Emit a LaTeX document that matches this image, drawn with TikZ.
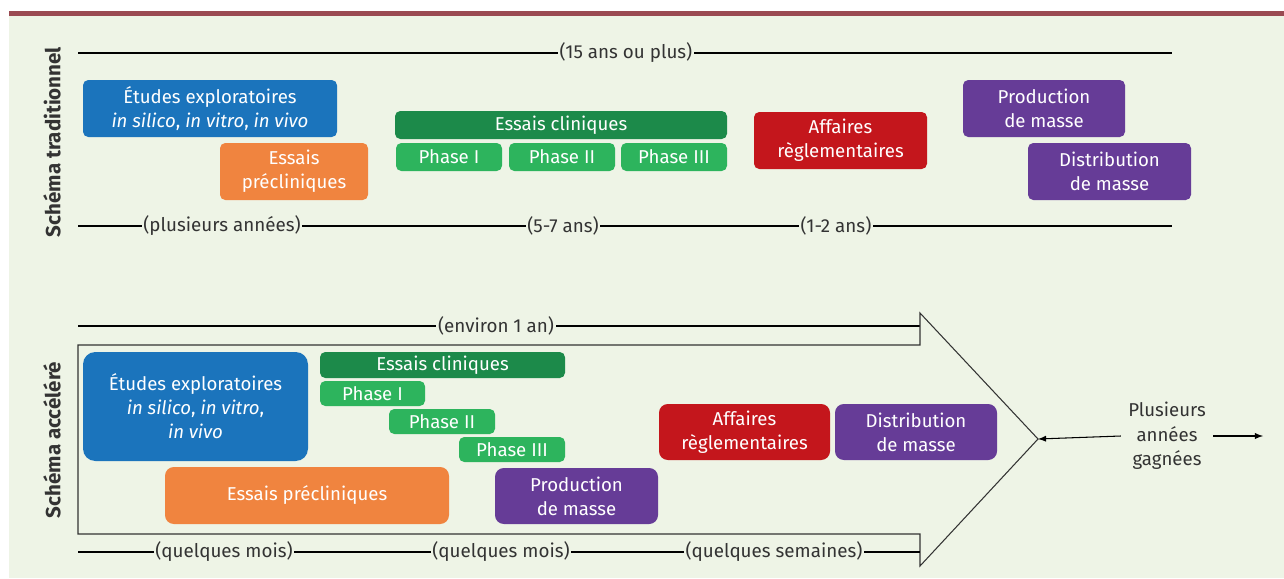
\documentclass[tikz,border=0pt]{standalone}
\usepackage{fontspec}
\setmainfont{Fira Sans}
\usepackage{tikz}
\usetikzlibrary{arrows}

\definecolor{fond}{HTML}{EEF4E6}
\definecolor{bordeaux}{HTML}{9A4A52}
\definecolor{bleu}{HTML}{1B74BC}
\definecolor{orange}{HTML}{F0843F}
\definecolor{vertfonce}{HTML}{1C8A4A}
\definecolor{vertclair}{HTML}{2DB45D}
\definecolor{rouge}{HTML}{C4161C}
\definecolor{violet}{HTML}{663C97}
\definecolor{gristexte}{HTML}{333333}

\tikzset{
  bloc/.style={rounded corners=3pt, text=white, align=center, inner sep=0pt,
    font=\fontsize{10.6}{13.6}\selectfont},
  taille/.style 2 args={minimum width=#1*0.02cm, minimum height=#2*0.02cm},
  duree/.style={fill=fond, inner sep=1pt, text=gristexte, font=\fontsize{10.7}{13}\selectfont},
  axe/.style={black, line width=0.6pt},
  titre/.style={rotate=90, text=gristexte, font=\fontsize{11.7}{14}\selectfont\bfseries},
}

\begin{document}
\begin{tikzpicture}[x=0.02cm, y=-0.02cm]

\useasboundingbox (0,0) rectangle (1284,578);
\fill[fond] (9,16) rectangle (1284,578);
\fill[bordeaux] (9,11) rectangle (1284,16);

% schema traditionnel
\node[titre] (tradi) at (52,142) {Schéma traditionnel};

\coordinate (hautG) at (78,53);
\coordinate (hautD) at (1172,53);
\draw[axe] (hautG) -- (hautD);
\node[duree] (total) at (626,53) {(15 ans ou plus)};

\node[bloc, fill=bleu, taille={254}{57}] (etudesT) at (210,108.5) {Études exploratoires\\\textit{in silico}, \textit{in vitro}, \textit{in vivo}};
\node[bloc, fill=orange, taille={148}{57}] (preclinT) at (294,171.5) {Essais\\précliniques};
\node[bloc, fill=vertfonce, taille={332}{28}] (cliniT) at (561,125) {Essais cliniques};
\node[bloc, fill=vertclair, taille={106}{28}] (phaseIT) at (449,157) {Phase I};
\node[bloc, fill=vertclair, taille={106}{28}] (phaseIIT) at (562,157) {Phase II};
\node[bloc, fill=vertclair, taille={106}{28}] (phaseIIIT) at (674,157) {Phase III};
\node[bloc, fill=rouge, taille={173}{57}] (affairesT) at (840.5,140.5) {Affaires\\règlementaires};
\node[bloc, fill=violet, taille={162}{57}] (prodT) at (1044,108.5) {Production\\de masse};
\node[bloc, fill=violet, taille={163}{57}] (distribT) at (1109.5,171.5) {Distribution\\de masse};

\coordinate (basG) at (78,226);
\coordinate (basD) at (1172,226);
\draw[axe] (basG) -- (basD);
\node[duree] (dureeA) at (222,226) {(plusieurs années)};
\node[duree] (dureeB) at (563,226) {(5-7 ans)};
\node[duree] (dureeC) at (836,226) {(1-2 ans)};

% schema accelere
\node[titre] (accel) at (52,440) {Schéma accéléré};

\coordinate (hautG2) at (78,326);
\coordinate (hautD2) at (920,326);
\draw[axe] (hautG2) -- (hautD2);
\node[duree] (total2) at (496,326) {(environ 1 an)};

\coordinate (pointe) at (1038,439);
\draw[gristexte, line width=0.6pt] (78,345) -- (920,345) -- (920,313) -- (pointe) -- (920,566) -- (920,534) -- (78,534) -- cycle;

\node[bloc, fill=bleu, rounded corners=7pt, taille={225}{109}] (etudesA) at (195.5,406.5) {Études exploratoires\\\textit{in silico}, \textit{in vitro},\\\textit{in vivo}};
\node[bloc, fill=orange, rounded corners=5pt, taille={284}{57}] (preclinA) at (307,495.5) {Essais précliniques};
\node[bloc, fill=vertfonce, taille={245}{26}] (cliniA) at (442.5,365) {Essais cliniques};
\node[bloc, fill=vertclair, taille={105}{25}] (phaseIA) at (372.5,393.5) {Phase I};
\node[bloc, fill=vertclair, taille={106}{25}] (phaseIIA) at (442,421.5) {Phase II};
\node[bloc, fill=vertclair, taille={106}{25}] (phaseIIIA) at (512,449.5) {Phase III};
\node[bloc, fill=violet, rounded corners=5pt, taille={163}{56}] (prodA) at (576.5,496) {Production\\de masse};
\node[bloc, fill=rouge, rounded corners=5pt, taille={171}{56}] (affairesA) at (744.5,432) {Affaires\\règlementaires};
\node[bloc, fill=violet, rounded corners=5pt, taille={162}{56}] (distribA) at (916,432) {Distribution\\de masse};

\coordinate (basG2) at (78,552);
\coordinate (basD2) at (920,552);
\draw[axe] (basG2) -- (basD2);
\node[duree] (dureeD) at (224,552) {(quelques mois)};
\node[duree] (dureeE) at (501,552) {(quelques mois)};
\node[duree] (dureeF) at (774,552) {(quelques semaines)};

\node[duree, align=center, inner sep=4pt, font=\fontsize{10.6}{14}\selectfont] (gain) at (1167,436) {Plusieurs\\années\\gagnées};
\coordinate (fin) at (1263,436);
\draw[-latex, axe] (gain.west) -- (pointe);
\draw[-latex, axe] (gain.east) -- (fin);

\end{tikzpicture}
\end{document}
